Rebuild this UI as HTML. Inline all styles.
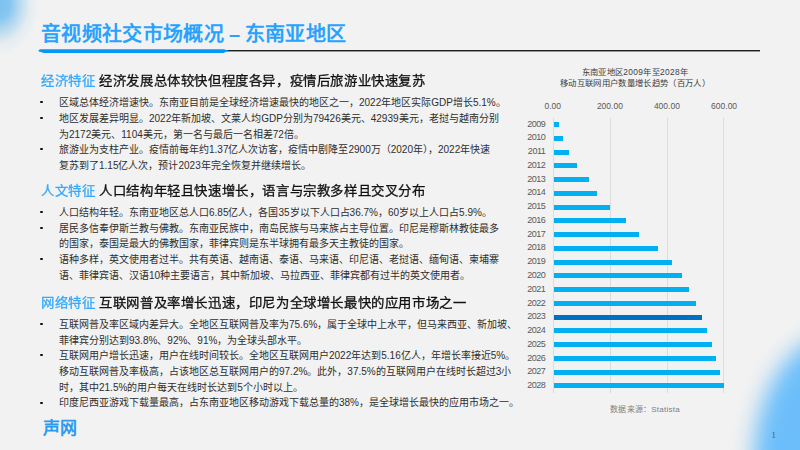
<!DOCTYPE html>
<html lang="zh-CN">
<head>
<meta charset="utf-8">
<style>
html,body{margin:0;padding:0;}
body{width:800px;height:450px;overflow:hidden;position:relative;background:#f2f2f2;font-family:"Liberation Sans",sans-serif;}
.blob1{position:absolute;left:0;top:0;width:140px;height:140px;background:radial-gradient(ellipse 42px 52px at -2px 4px,rgba(122,193,240,1) 0%,rgba(128,196,240,0.95) 28%,rgba(155,206,239,0.66) 52%,rgba(198,222,238,0.3) 76%,rgba(242,242,242,0) 100%);}
.blob2{position:absolute;left:754px;top:331px;width:180px;height:260px;border-radius:50%;background:#6cbefa;filter:blur(11px);}
.title{position:absolute;left:41px;top:20px;font-size:20px;font-weight:bold;color:#28a2fc;white-space:nowrap;line-height:28px;letter-spacing:0.35px;}
.rule{position:absolute;left:200px;top:50px;width:560px;height:1px;background:#1e1e1e;box-shadow:0 1px 0 rgba(40,40,40,0.45);}
.rule2{position:absolute;left:0;top:0;}
.h{position:absolute;left:41px;transform:scaleY(0.94);transform-origin:0 50%;font-size:13.4px;font-weight:normal;-webkit-text-stroke:0.3px #111;color:#111;white-space:nowrap;line-height:18px;letter-spacing:0.60px;}
.h i{font-style:normal;letter-spacing:0;margin-right:0.1px;}
.h span{color:#38a8fa;font-weight:normal;-webkit-text-stroke:0.3px #38a8fa;}
.l{position:absolute;left:59px;font-size:10px;color:#2e2e2e;white-space:nowrap;line-height:14px;}
.b{position:absolute;left:40.4px;width:2.3px;height:2.3px;border-radius:50%;background:#111;}
.ct{position:absolute;font-size:8.4px;color:#404040;white-space:nowrap;line-height:10px;text-align:center;width:200px;left:535px;letter-spacing:0.33px;}
.ax{position:absolute;font-size:8.5px;color:#595959;white-space:nowrap;line-height:10px;width:40px;text-align:center;top:101px;}
.yr{position:absolute;font-size:9px;color:#595959;white-space:nowrap;line-height:10px;width:30px;left:515.4px;text-align:right;letter-spacing:-0.45px;}
.grid{position:absolute;top:117.5px;height:275px;width:1px;background:#dcdcdc;}
.bar{position:absolute;left:553.5px;height:5px;background:#00b0f0;}
.src{position:absolute;left:610px;top:404.5px;font-size:8px;letter-spacing:0.25px;color:#7f7f7f;white-space:nowrap;line-height:10px;}
.logo{position:absolute;left:43px;top:417.8px;font-size:17px;font-weight:bold;color:#2a9bf0;white-space:nowrap;line-height:22px;}
.pn{position:absolute;left:771.5px;top:430.3px;font-size:8.7px;color:#555;line-height:10px;font-family:"Liberation Serif",serif;}
</style>
</head>
<body>
<div class="blob1"></div>
<div class="blob2"></div>

<div class="title">音视频社交市场概况<span style="margin-left:-1.2px"> </span>–<span style="margin-right:-1.8px"> </span>东南亚地区</div>
<div class="rule"></div>
<svg class="rule2" width="800" height="60" viewBox="0 0 800 60"><path d="M38.5,50.7 Q38.6,49.5 40.5,49.3 L223.5,49.2 L228.8,50.6 L223.5,52.9 L43.5,52.9 L41,52.1 Q38.5,51.9 38.5,50.7 Z" fill="#0797f6"/></svg>

<div class="h" style="top:72px"><span>经济特征</span><i> </i>经济发展总体较快但程度各异，疫情后旅游业快速复苏</div>
<div class="b" style="top:100.8px"></div>
<div class="l" style="top:96.2px">区域总体经济增速快。东南亚目前是全球经济增速最快的地区之一，2022年地区实际GDP增长5.1%。</div>
<div class="b" style="top:116.5px"></div>
<div class="l" style="top:111.9px">地区发展差异明显。2022年新加坡、文莱人均GDP分别为79426美元、42939美元，老挝与越南分别</div>
<div class="l" style="top:127.6px">为2172美元、1104美元，第一名与最后一名相差72倍。</div>
<div class="b" style="top:147.9px"></div>
<div class="l" style="top:143.3px">旅游业为支柱产业。疫情前每年约1.37亿人次访客，疫情中剧降至2900万（2020年），2022年快速</div>
<div class="l" style="top:159.0px">复苏到了1.15亿人次，预计2023年完全恢复并继续增长。</div>

<div class="h" style="top:182px"><span>人文特征</span><i> </i>人口结构年轻且快速增长，语言与宗教多样且交叉分布</div>
<div class="b" style="top:210.5px"></div>
<div class="l" style="top:205.9px">人口结构年轻。东南亚地区总人口6.85亿人，各国35岁以下人口占36.7%，60岁以上人口占5.9%。</div>
<div class="b" style="top:226.9px"></div>
<div class="l" style="top:221.6px">居民多信奉伊斯兰教与佛教。东南亚民族中，南岛民族与马来族占主导位置。印尼是穆斯林教徒最多</div>
<div class="l" style="top:237.3px">的国家，泰国是最大的佛教国家，菲律宾则是东半球拥有最多天主教徒的国家。</div>
<div class="b" style="top:257.6px"></div>
<div class="l" style="top:253.0px">语种多样，英文使用者过半。共有英语、越南语、泰语、马来语、印尼语、老挝语、缅甸语、柬埔寨</div>
<div class="l" style="top:268.7px">语、菲律宾语、汉语10种主要语言，其中新加坡、马拉西亚、菲律宾都有过半的英文使用者。</div>

<div class="h" style="top:294px"><span>网络特征</span><i> </i>互联网普及率增长迅速，印尼为全球增长最快的应用市场之一</div>
<div class="b" style="top:322.5px"></div>
<div class="l" style="top:317.9px">互联网普及率区域内差异大。全地区互联网普及率为75.6%，属于全球中上水平，但马来西亚、新加坡、</div>
<div class="l" style="top:333.6px">菲律宾分别达到93.8%、92%、91%，为全球头部水平。</div>
<div class="b" style="top:353.9px"></div>
<div class="l" style="top:349.3px">互联网用户增长迅速，用户在线时间较长。全地区互联网用户2022年达到5.16亿人，年增长率接近5%。</div>
<div class="l" style="top:365.0px">移动互联网普及率极高，占该地区总互联网用户的97.2%。此外，37.5%的互联网用户在线时长超过3小</div>
<div class="l" style="top:380.7px">时，其中21.5%的用户每天在线时长达到5个小时以上。</div>
<div class="b" style="top:401.9px"></div>
<div class="l" style="top:396.4px">印度尼西亚游戏下载量最高，占东南亚地区移动游戏下载总量的38%，是全球增长最快的应用市场之一。</div>

<!-- chart -->
<div class="ct" style="top:67px">东南亚地区2009年至2028年</div>
<div class="ct" style="top:77.5px">移动互联网用户数量增长趋势（百万人）</div>

<div class="ax" style="left:532.7px">0.00</div>
<div class="ax" style="left:589.9px">200.00</div>
<div class="ax" style="left:646.9px">400.00</div>
<div class="ax" style="left:704.1px">600.00</div>

<div class="grid" style="left:553px"></div>
<div class="grid" style="left:609.5px"></div>
<div class="grid" style="left:666.5px"></div>
<div class="grid" style="left:723px"></div>

<!--bars-->
<div class="bar" style="top:122.10px;width:5.5px;background:#00b0f0"></div>
<div class="yr" style="top:118.70px">2009</div>
<div class="bar" style="top:135.85px;width:9.5px;background:#00b0f0"></div>
<div class="yr" style="top:132.45px">2010</div>
<div class="bar" style="top:149.61px;width:15.5px;background:#00b0f0"></div>
<div class="yr" style="top:146.21px">2011</div>
<div class="bar" style="top:163.37px;width:23.9px;background:#00b0f0"></div>
<div class="yr" style="top:159.97px">2012</div>
<div class="bar" style="top:177.12px;width:35.3px;background:#00b0f0"></div>
<div class="yr" style="top:173.72px">2013</div>
<div class="bar" style="top:190.88px;width:43.7px;background:#00b0f0"></div>
<div class="yr" style="top:187.47px">2014</div>
<div class="bar" style="top:204.63px;width:56.7px;background:#00b0f0"></div>
<div class="yr" style="top:201.23px">2015</div>
<div class="bar" style="top:218.38px;width:72.2px;background:#00b0f0"></div>
<div class="yr" style="top:214.98px">2016</div>
<div class="bar" style="top:232.14px;width:85.5px;background:#00b0f0"></div>
<div class="yr" style="top:228.74px">2017</div>
<div class="bar" style="top:245.89px;width:104.6px;background:#00b0f0"></div>
<div class="yr" style="top:242.49px">2018</div>
<div class="bar" style="top:259.65px;width:118.6px;background:#00b0f0"></div>
<div class="yr" style="top:256.25px">2019</div>
<div class="bar" style="top:273.40px;width:128.0px;background:#00b0f0"></div>
<div class="yr" style="top:270.00px">2020</div>
<div class="bar" style="top:287.16px;width:135.6px;background:#00b0f0"></div>
<div class="yr" style="top:283.76px">2021</div>
<div class="bar" style="top:300.91px;width:142.5px;background:#00b0f0"></div>
<div class="yr" style="top:297.51px">2022</div>
<div class="bar" style="top:314.67px;width:148.5px;background:#0070c0"></div>
<div class="yr" style="top:311.27px">2023</div>
<div class="bar" style="top:328.43px;width:153.9px;background:#00b0f0"></div>
<div class="yr" style="top:325.03px">2024</div>
<div class="bar" style="top:342.18px;width:158.5px;background:#00b0f0"></div>
<div class="yr" style="top:338.78px">2025</div>
<div class="bar" style="top:355.94px;width:162.5px;background:#00b0f0"></div>
<div class="yr" style="top:352.54px">2026</div>
<div class="bar" style="top:369.69px;width:166.5px;background:#00b0f0"></div>
<div class="yr" style="top:366.29px">2027</div>
<div class="bar" style="top:383.45px;width:170.0px;background:#00b0f0"></div>
<div class="yr" style="top:380.05px">2028</div>
<!--/bars-->
<div class="src">数据来源：Statista</div>
<div class="logo">声网</div>
<div class="pn">1</div>
</body>
</html>
